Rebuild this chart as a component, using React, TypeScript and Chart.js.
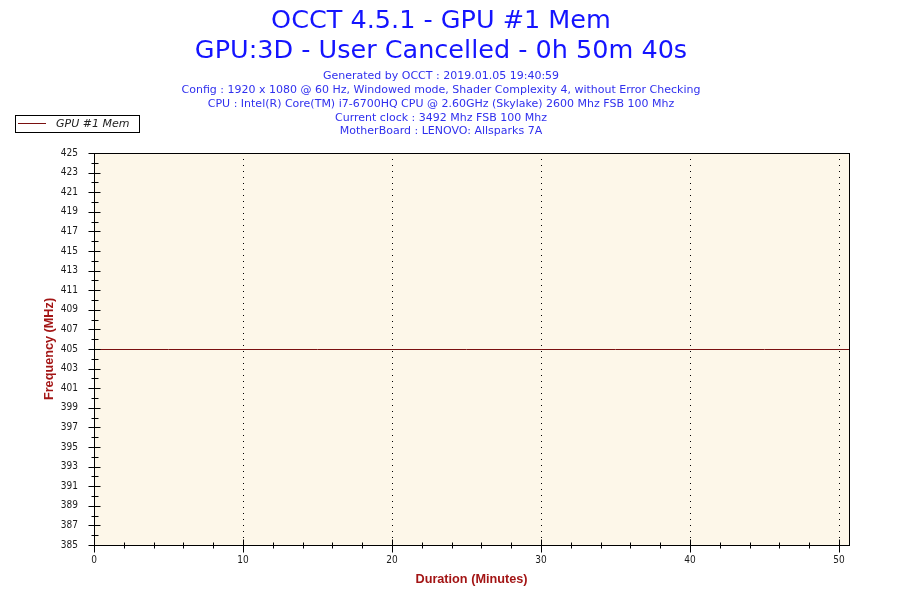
import React, { useEffect, useRef } from "react";
import { Chart, registerables } from "chart.js";

Chart.register(...registerables);

const titleLines = ["OCCT 4.5.1 - GPU #1 Mem", "GPU:3D - User Cancelled - 0h 50m 40s"];
const subtitleLines = [
  "Generated by OCCT : 2019.01.05 19:40:59",
  "Config : 1920 x 1080 @ 60 Hz, Windowed mode, Shader Complexity 4, without Error Checking",
  "CPU : Intel(R) Core(TM) i7-6700HQ CPU @ 2.60GHz (Skylake) 2600 Mhz FSB 100 Mhz",
  "Current clock : 3492 Mhz FSB 100 Mhz",
  "MotherBoard : LENOVO: Allsparks 7A",
];
const seriesLabel = "GPU #1 Mem";
const minutes = [0, 5, 10, 15, 20, 25, 30, 35, 40, 45, 50, 50.667];
const frequencyMHz = [405, 405, 405, 405, 405, 405, 405, 405, 405, 405, 405, 405];
const xTickValues = [0, 10, 20, 30, 40, 50];
const xMinorValues = [2, 4, 6, 8, 12, 14, 16, 18, 22, 24, 26, 28, 32, 34, 36, 38, 42, 44, 46, 48];
const yTickValues = [385, 387, 389, 391, 393, 395, 397, 399, 401, 403, 405, 407, 409, 411, 413, 415, 417, 419, 421, 423, 425];
const yMinorValues = [386, 388, 390, 392, 394, 396, 398, 400, 402, 404, 406, 408, 410, 412, 414, 416, 418, 420, 422, 424];
const xTitle = "Duration (Minutes)";
const yTitle = "Frequency (MHz)";
const xMax = 50.667;

const LINE_COLOR = "#7A1010";
const AXIS_TITLE_COLOR = "#A31515";
const PLOT_BG = "#FDF7E9";
const TICK_FONT = { family: "'DejaVu Sans Condensed', 'DejaVu Sans'", size: 10 };

const decorPlugin = {
  id: "occtDecor",
  beforeDraw(chart: any) {
    const { ctx, chartArea: a } = chart;
    ctx.save();
    ctx.fillStyle = "#ffffff";
    ctx.fillRect(0, 0, chart.width, chart.height);
    ctx.fillStyle = PLOT_BG;
    ctx.fillRect(a.left, a.top, a.right - a.left, a.bottom - a.top);
    ctx.restore();
  },
  beforeDatasetsDraw(chart: any) {
    chart.ctx.save();
    chart.ctx.translate(0, 0.5);
  },
  afterDatasetsDraw(chart: any) {
    chart.ctx.restore();
  },
  afterDraw(chart: any) {
    const { ctx, chartArea: a } = chart;
    const xs = chart.scales.x;
    const ys = chart.scales.y;
    ctx.save();
    // Header
    ctx.textAlign = "center";
    ctx.textBaseline = "middle";
    ctx.fillStyle = "#1414ff";
    ctx.font = "25.5px 'DejaVu Sans'";
    ctx.fillText(titleLines[0], 441, 21);
    ctx.fillText(titleLines[1], 441, 51);
    ctx.fillStyle = "#3030ee";
    ctx.font = "11px 'DejaVu Sans'";
    const subY = [76, 90, 104, 118, 131];
    subtitleLines.forEach((t, i) => ctx.fillText(t, 441, subY[i]));

    // Legend
    ctx.fillStyle = "#ffffff";
    ctx.fillRect(15, 115, 124, 17);
    ctx.strokeStyle = "#000000";
    ctx.lineWidth = 1;
    ctx.strokeRect(15.5, 115.5, 124, 17);
    ctx.strokeStyle = LINE_COLOR;
    ctx.beginPath();
    ctx.moveTo(18, 123.5);
    ctx.lineTo(46, 123.5);
    ctx.stroke();
    ctx.fillStyle = "#222222";
    ctx.font = "italic 11px 'DejaVu Sans'";
    ctx.textAlign = "left";
    ctx.fillText(seriesLabel, 56, 124);

    // Plot frame
    ctx.strokeStyle = "#000000";
    ctx.lineWidth = 1;
    ctx.strokeRect(Math.round(a.left) + 0.5, Math.round(a.top) + 0.5, Math.round(a.right - a.left), Math.round(a.bottom - a.top));

    // Ticks
    const left = Math.round(a.left) + 0.5;
    const bottom = Math.round(a.bottom) + 0.5;
    ctx.beginPath();
    yTickValues.forEach((v) => {
      const y = Math.round(ys.getPixelForValue(v)) + 0.5;
      ctx.moveTo(left - 6, y);
      ctx.lineTo(left + 6, y);
    });
    yMinorValues.forEach((v) => {
      const y = Math.round(ys.getPixelForValue(v)) + 0.5;
      ctx.moveTo(left - 3, y);
      ctx.lineTo(left + 4, y);
    });
    xTickValues.forEach((v) => {
      const x = Math.round(xs.getPixelForValue(v)) + 0.5;
      ctx.moveTo(x, bottom - 6);
      ctx.lineTo(x, bottom + 7);
    });
    xMinorValues.forEach((v) => {
      const x = Math.round(xs.getPixelForValue(v)) + 0.5;
      ctx.moveTo(x, bottom - 3);
      ctx.lineTo(x, bottom + 3);
    });
    ctx.stroke();

    // Axis titles
    ctx.fillStyle = AXIS_TITLE_COLOR;
    ctx.font = "bold 12.7px 'Liberation Sans'";
    ctx.textAlign = "center";
    ctx.textBaseline = "middle";
    ctx.fillText(xTitle, (a.left + a.right) / 2, 579);
    ctx.translate(49, (a.top + a.bottom) / 2);
    ctx.rotate(-Math.PI / 2);
    ctx.fillText(yTitle, 0, 0);
    ctx.restore();
  },
};

export default function App() {
  const ref = useRef<HTMLCanvasElement | null>(null);
  useEffect(() => {
    if (!ref.current) return;
    const chart = new Chart(ref.current, {
      type: "line",
      data: {
        datasets: [
          {
            label: seriesLabel,
            data: minutes.map((m, i) => ({ x: m, y: frequencyMHz[i] })),
            borderColor: LINE_COLOR,
            borderWidth: 1,
            pointRadius: 0,
            tension: 0,
            fill: false,
          },
        ],
      },
      options: {
        animation: false,
        responsive: false,
        devicePixelRatio: 1,
        layout: { padding: { left: 0, top: 153, right: 51, bottom: 0 } },
        plugins: {
          legend: { display: false },
          title: { display: false },
          tooltip: { enabled: false },
        },
        scales: {
          x: {
            type: "linear",
            min: 0,
            max: xMax,
            afterBuildTicks: (s: any) => {
              s.ticks = xTickValues.map((v) => ({ value: v }));
            },
            afterFit: (s: any) => {
              s.height = 55;
            },
            grid: {
              drawTicks: false,
              color: "#000000",
              lineWidth: (c: any) => (c.tick && c.tick.value === 0 ? 0 : 1),
            },
            border: { display: false, dash: [1, 5] },
            ticks: {
              padding: 9,
              color: "#1a1a1a",
              font: TICK_FONT,
              maxRotation: 0,
              autoSkip: false,
            },
            title: { display: false },
          },
          y: {
            type: "linear",
            min: 385,
            max: 425,
            afterBuildTicks: (s: any) => {
              s.ticks = yTickValues.map((v) => ({ value: v }));
            },
            afterFit: (s: any) => {
              s.width = 94;
            },
            grid: { display: false, drawTicks: false },
            border: { display: false },
            ticks: {
              padding: 16,
              color: "#1a1a1a",
              font: TICK_FONT,
              autoSkip: false,
            },
            title: { display: false },
          },
        },
      } as any,
      plugins: [decorPlugin],
    });
    return () => chart.destroy();
  }, []);
  return (
    <div style={{ position: "absolute", left: 0, top: 0, width: 900, height: 600 }}>
      <canvas ref={ref} width={900} height={600} />
    </div>
  );
}
